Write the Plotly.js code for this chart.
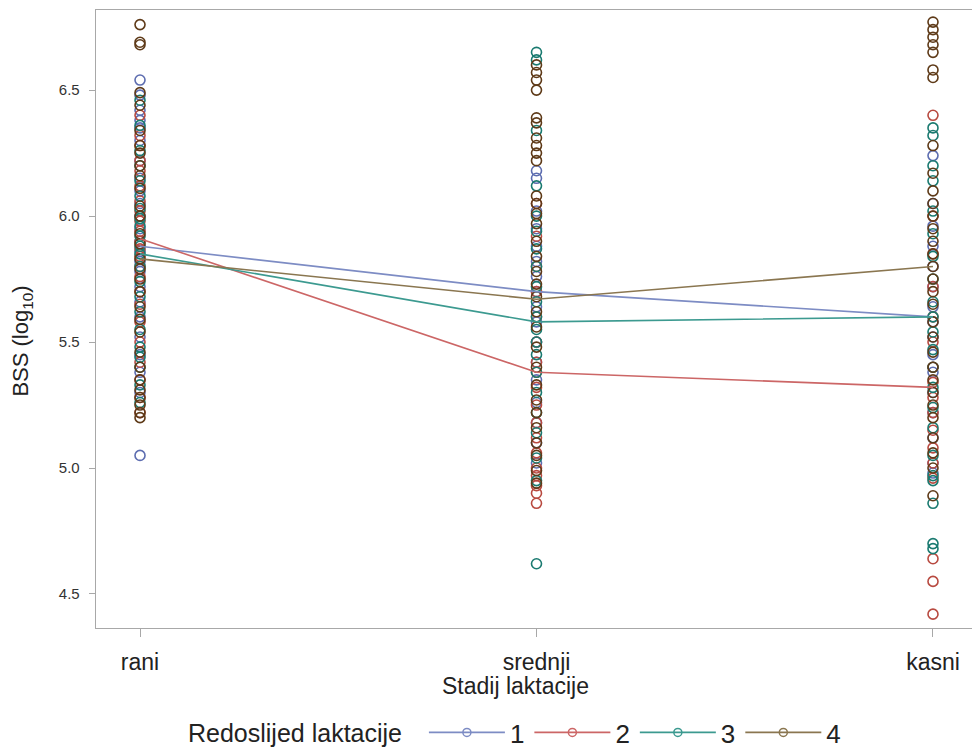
<!DOCTYPE html>
<html>
<head>
<meta charset="utf-8">
<script src="https://cdn.plot.ly/plotly-3.0.1.min.js"></script>
<style>html,body{margin:0;padding:0;background:#fff;overflow:hidden}#wrap{width:972px;height:749px;overflow:hidden}#chart{width:1000px;height:749px}</style>
</head>
<body>
<div id="wrap"><div id="chart"></div></div>
<script>
const stages = ["rani", "srednji", "kasni"];
const groups = ["1", "2", "3", "4"];

// individual observations, BSS (log10), per lactation order and stage
const g1_rani = [6.54, 6.48, 6.42, 6.38, 6.35, 6.30, 6.22, 6.15, 6.10, 6.05, 6.00, 5.95, 5.90, 5.86, 5.82, 5.78, 5.72, 5.66, 5.60, 5.52, 5.45, 5.38, 5.30, 5.05];
const g1_srednji = [6.18, 6.15, 6.02, 5.95, 5.88, 5.82, 5.76, 5.70, 5.64, 5.58, 5.50, 5.42, 5.35, 5.26, 5.18, 5.10, 5.02];
const g1_kasni = [6.24, 6.05, 5.96, 5.88, 5.80, 5.72, 5.64, 5.58, 5.52, 5.45, 5.38, 5.30, 5.22, 5.12, 5.02, 4.98];

const g2_rani = [6.40, 6.32, 6.28, 6.22, 6.18, 6.12, 6.06, 6.02, 5.98, 5.94, 5.90, 5.87, 5.84, 5.80, 5.76, 5.70, 5.65, 5.58, 5.50, 5.42, 5.35, 5.28, 5.22];
const g2_srednji = [6.05, 5.92, 5.80, 5.70, 5.60, 5.50, 5.42, 5.38, 5.32, 5.25, 5.18, 5.12, 5.06, 5.00, 4.97, 4.93, 4.90, 4.86];
const g2_kasni = [6.40, 6.00, 5.85, 5.72, 5.60, 5.50, 5.40, 5.34, 5.28, 5.22, 5.15, 5.08, 5.02, 4.96, 4.64, 4.55, 4.42];

const g3_rani = [6.46, 6.36, 6.26, 6.20, 6.14, 6.08, 6.03, 5.99, 5.96, 5.92, 5.88, 5.85, 5.80, 5.74, 5.68, 5.62, 5.55, 5.48, 5.44, 5.40, 5.33, 5.26];
const g3_srednji = [6.65, 6.62, 6.34, 6.12, 6.00, 5.94, 5.87, 5.80, 5.72, 5.66, 5.60, 5.55, 5.50, 5.45, 5.38, 5.30, 5.22, 5.14, 5.04, 4.95, 4.62];
const g3_kasni = [6.35, 6.32, 6.20, 6.14, 6.02, 5.93, 5.84, 5.75, 5.66, 5.60, 5.54, 5.47, 5.40, 5.32, 5.24, 5.16, 5.05, 4.97, 4.95, 4.86, 4.70, 4.68];

const g4_rani = [6.76, 6.69, 6.68, 6.49, 6.44, 6.34, 6.28, 6.25, 6.20, 6.16, 6.11, 6.04, 6.00, 5.93, 5.89, 5.83, 5.79, 5.75, 5.70, 5.64, 5.59, 5.54, 5.46, 5.40, 5.35, 5.31, 5.28, 5.25, 5.22, 5.20];
const g4_srednji = [6.60, 6.57, 6.54, 6.50, 6.39, 6.37, 6.31, 6.28, 6.25, 6.22, 6.08, 6.05, 6.01, 5.97, 5.90, 5.84, 5.78, 5.73, 5.68, 5.62, 5.56, 5.48, 5.40, 5.33, 5.27, 5.22, 5.16, 5.10, 5.05, 4.99, 4.94];
const g4_kasni = [6.77, 6.74, 6.71, 6.68, 6.65, 6.58, 6.55, 6.28, 6.17, 6.10, 6.05, 6.00, 5.95, 5.90, 5.85, 5.80, 5.75, 5.70, 5.65, 5.58, 5.52, 5.46, 5.40, 5.35, 5.30, 5.25, 5.20, 5.12, 5.06, 5.00, 4.89];

// group means per stage (lines)
const mean1 = [5.88, 5.70, 5.60];
const mean2 = [5.91, 5.38, 5.32];
const mean3 = [5.85, 5.58, 5.60];
const mean4 = [5.83, 5.67, 5.80];

const yTicks = [4.5, 5.0, 5.5, 6.0, 6.5];

const xTitle = "Stadij laktacije";
const yTitle = "BSS (log<sub>10</sub>)";
const legendTitle = "Redoslijed laktacije";

const markerColors = ["#5d6db0", "#b84a40", "#1a7a70", "#5e3a18"];
const lineColors = ["#7d8cc4", "#cc6666", "#3c9a90", "#8a7650"];

const obs = [
  [g1_rani, g1_srednji, g1_kasni],
  [g2_rani, g2_srednji, g2_kasni],
  [g3_rani, g3_srednji, g3_kasni],
  [g4_rani, g4_srednji, g4_kasni]
];
const means = [mean1, mean2, mean3, mean4];

const traces = [];
groups.forEach((g, gi) => {
  const xs = [], ys = [];
  obs[gi].forEach((arr, si) => arr.forEach(v => { xs.push(stages[si]); ys.push(v); }));
  traces.push({
    type: "scatter", mode: "markers", x: xs, y: ys, showlegend: false, hoverinfo: "y",
    marker: {symbol: "circle-open", size: 10, color: markerColors[gi], line: {width: 1.6, color: markerColors[gi]}}
  });
});
groups.forEach((g, gi) => {
  traces.push({
    type: "scatter", mode: "lines", x: stages, y: means[gi], showlegend: false,
    line: {color: lineColors[gi], width: 1.6}
  });
});
groups.forEach((g, gi) => {
  traces.push({
    type: "scatter", mode: "lines+markers", x: [null], y: [null], name: g,
    line: {color: lineColors[gi], width: 1.6},
    marker: {symbol: "circle-open", size: 8, color: lineColors[gi], line: {width: 1.5}}
  });
});

const layout = {
  width: 1000, height: 749,
  margin: {l: 96, r: 0, t: 10, b: 121},
  paper_bgcolor: "#fff", plot_bgcolor: "#fff",
  font: {family: "Liberation Sans, Arial, sans-serif", color: "#222"},
  xaxis: {
    type: "category", categoryorder: "array", categoryarray: stages,
    range: [-0.111, 2.169],
    showline: true, mirror: true, linecolor: "#a8a8a8", linewidth: 1.3,
    ticks: "outside", ticklen: 8, tickcolor: "#a8a8a8",
    ticklabelstandoff: 5,
    showgrid: false, zeroline: false,
    tickfont: {size: 23, color: "#222"}
  },
  yaxis: {
    range: [4.365, 6.818],
    tickvals: yTicks, tickformat: ".1f",
    showline: true, mirror: false, linecolor: "#a8a8a8", linewidth: 1.3,
    ticks: "outside", ticklen: 6, tickcolor: "#a8a8a8",
    ticklabelstandoff: 6,
    showgrid: false, zeroline: false,
    tickfont: {size: 15, color: "#333"}
  },
  annotations: [
    {text: xTitle, xref: "paper", yref: "paper", x: 0.4635, y: -0.0939, xanchor: "center", yanchor: "middle",
     showarrow: false, font: {size: 23, color: "#222"}},
    {text: yTitle, xref: "paper", yref: "paper", x: -0.0819, y: 0.465, xanchor: "center", yanchor: "middle",
     textangle: -90, showarrow: false, font: {size: 22, color: "#222"}}
  ],
  legend: {
    orientation: "h", xref: "container", yref: "container",
    x: 0.516, xanchor: "center", y: 0.022, yanchor: "middle",
    font: {size: 26, color: "#222"},
    title: {text: legendTitle + "  ", font: {size: 25, color: "#222"}},
    itemwidth: 76
  }
};

Plotly.newPlot("chart", traces, layout, {displayModeBar: false, staticPlot: true});
</script>
</body>
</html>
